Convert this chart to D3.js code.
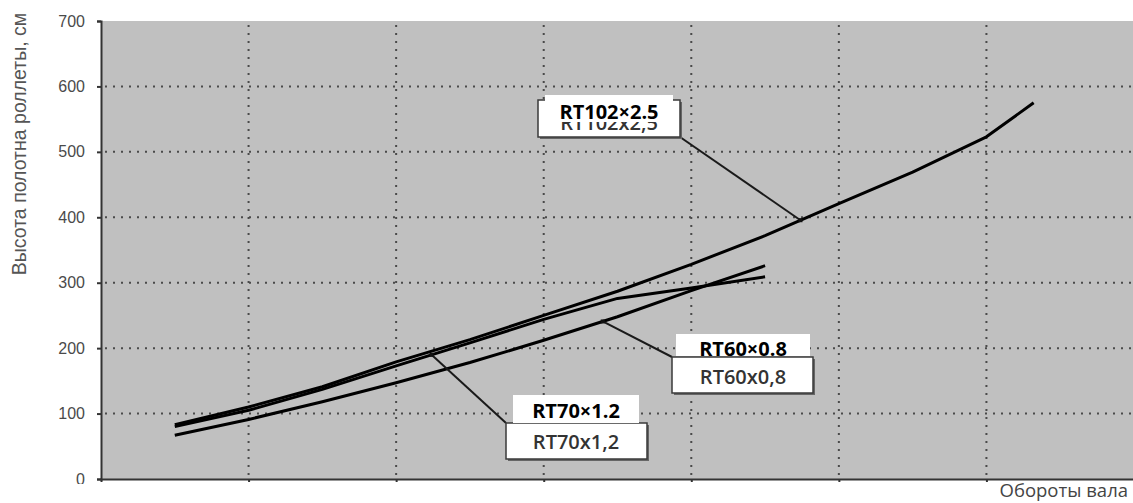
<!DOCTYPE html>
<html><head><meta charset="utf-8">
<script src="https://cdn.jsdelivr.net/npm/d3@7/dist/d3.min.js"></script>
<style>
html,body{margin:0;padding:0;background:#fff;}
svg{display:block;}
</style></head>
<body>
<svg id="c" width="1133" height="503"></svg>
<script>
// ---- data ----
const xTurns = [0.5, 1, 1.5, 2, 2.5, 3, 3.5, 4, 4.5, 5, 5.5, 6, 6.32];
const rt102 = [83, 110, 141, 179, 213, 250, 287, 328, 372, 421, 469, 523, 575];
const rt70  = [80, 105, 137, 173, 208, 244, 276, 292, 309];
const rt60  = [67, 91, 118, 147, 178, 212, 248, 288, 326];
const yTicks = [0, 100, 200, 300, 400, 500, 600, 700];
const xGrid = [1, 2, 3, 4, 5, 6];
const seriesNames = ["RT102x2,5", "RT70x1,2", "RT60x0,8"];
const seriesBold = ["RT102\u00D72.5", "RT70\u00D71.2", "RT60\u00D70.8"];
const pointerAt = [4.74, 2.24, 3.4];
const yTitle = "Высота полотна роллеты, см";
const xTitle = "Обороты вала";

// ---- layout ----
const L = 101, R = 1134, T = 21, B = 479;
const svg = d3.select("#c");
const x = d3.scaleLinear().domain([0, 7]).range([L, R]);
const y = d3.scaleLinear().domain([0, 700]).range([B, T]);

svg.append("rect").attr("x", L).attr("y", T).attr("width", R - L).attr("height", B - T).attr("fill", "#c0c0c0");

// grid
const grid = svg.append("g").attr("stroke", "#4a4a4a").attr("stroke-width", 2).attr("stroke-dasharray", "2,6");
grid.selectAll("line.h").data(yTicks.filter(v => v > 0 && v < 700)).join("line")
  .attr("x1", L + 4).attr("x2", R).attr("y1", d => y(d)).attr("y2", d => y(d));
grid.selectAll("line.v").data(xGrid).join("line").attr("class", "v")
  .attr("x1", d => x(d)).attr("x2", d => x(d)).attr("y1", T + 4).attr("y2", B);

// axes
const yAxis = d3.axisLeft(y).tickValues(yTicks).tickSize(4).tickPadding(12);
const gy = svg.append("g").attr("transform", `translate(${L},0)`).call(yAxis);
gy.select(".domain").attr("stroke", "#333").attr("stroke-width", 2);
gy.selectAll(".tick line").attr("stroke", "#333").attr("stroke-width", 2);
gy.selectAll(".tick text").attr("fill", "#4a4a4a").style("font-family", "'Liberation Sans', Arial, sans-serif").style("font-size", "16px");

const xAxis = d3.axisBottom(x).tickValues(xGrid).tickSize(3).tickFormat("");
const gx = svg.append("g").attr("transform", `translate(0,${B})`).call(xAxis);
gx.select(".domain").attr("stroke", "#333").attr("stroke-width", 2);
gx.selectAll(".tick line").attr("stroke", "#333").attr("stroke-width", 2);

// clip bottom of "0" like reference
svg.append("rect").attr("x", 0).attr("y", 484).attr("width", L - 1).attr("height", 19).attr("fill", "#fff");

// titles
svg.append("text").attr("transform", `translate(26,144) rotate(-90)`).attr("text-anchor", "middle")
  .attr("fill", "#555").style("font-family", "'Liberation Sans', Arial, sans-serif").style("font-size", "19.5px").text(yTitle);
svg.append("text").attr("x", 1128).attr("y", 497).attr("text-anchor", "end")
  .attr("fill", "#444").style("font-family", "'Open Sans', sans-serif").style("font-size", "18.5px").text(xTitle);

// series
const seriesVals = [rt102, rt70, rt60];
const line = d3.line().x(d => x(d[0])).y(d => y(d[1]));
const seriesPts = seriesVals.map(vals => vals.map((v, i) => [xTurns[i], v]));
svg.append("g").selectAll("path").data(seriesPts).join("path")
  .attr("d", line).attr("fill", "none").attr("stroke", "#000").attr("stroke-width", 3).attr("stroke-linejoin", "round");

// annotations
function interp(pts, xv) {
  for (let i = 0; i < pts.length - 1; i++) {
    if (xv >= pts[i][0] && xv <= pts[i + 1][0]) {
      const t = (xv - pts[i][0]) / (pts[i + 1][0] - pts[i][0]);
      return pts[i][1] + t * (pts[i + 1][1] - pts[i][1]);
    }
  }
  return pts[pts.length - 1][1];
}
// box layout: [boxX, boxY, boxW, boxH, anchorCornerX, anchorCornerY, overlayX, overlayY, overlayW, overlayH, cx, boldBase, origBase]
const boxes = [
  [538, 100, 142, 37, 680, 137, 545, 95, 128, 27, 609, 119, 130],
  [506, 423, 141, 36, 506, 423, 513, 395, 126, 28, 576, 418, 449],
  [672, 357, 141, 36, 672, 357, 676, 334, 134, 22, 743, 356, 384]
];
const ann = svg.append("g");
boxes.forEach((b, i) => {
  const tx = x(pointerAt[i]), ty = y(interp(seriesPts[i], pointerAt[i]));
  ann.append("line").attr("x1", b[4]).attr("y1", b[5]).attr("x2", tx).attr("y2", ty)
    .attr("stroke", "#1a1a1a").attr("stroke-width", 2);
  ann.append("rect").attr("x", tx - 2).attr("y", ty - 2).attr("width", 4).attr("height", 4).attr("fill", "#111");
});
boxes.forEach((b, i) => {
  ann.append("rect").attr("x", b[0] + 2).attr("y", b[1] + 2).attr("width", b[2]).attr("height", b[3]).attr("fill", "#666");
  ann.append("rect").attr("x", b[0]).attr("y", b[1]).attr("width", b[2]).attr("height", b[3])
    .attr("fill", "#fff").attr("stroke", "#3a3a3a").attr("stroke-width", 1.5);
  ann.append("text").attr("x", b[10]).attr("y", b[12]).attr("text-anchor", "middle")
    .attr("fill", "#333").style("font-family", "'Open Sans', sans-serif").style("font-weight", "600").style("font-size", "20px").text(seriesNames[i]);
  ann.append("rect").attr("x", b[6]).attr("y", b[7]).attr("width", b[8]).attr("height", b[9]).attr("fill", "#fff");
  ann.append("text").attr("x", b[10]).attr("y", b[11]).attr("text-anchor", "middle")
    .attr("fill", "#000").style("font-family", "'Open Sans', sans-serif").style("font-weight", "bold").style("font-size", "20px").text(seriesBold[i]);
});
</script>
</body></html>
